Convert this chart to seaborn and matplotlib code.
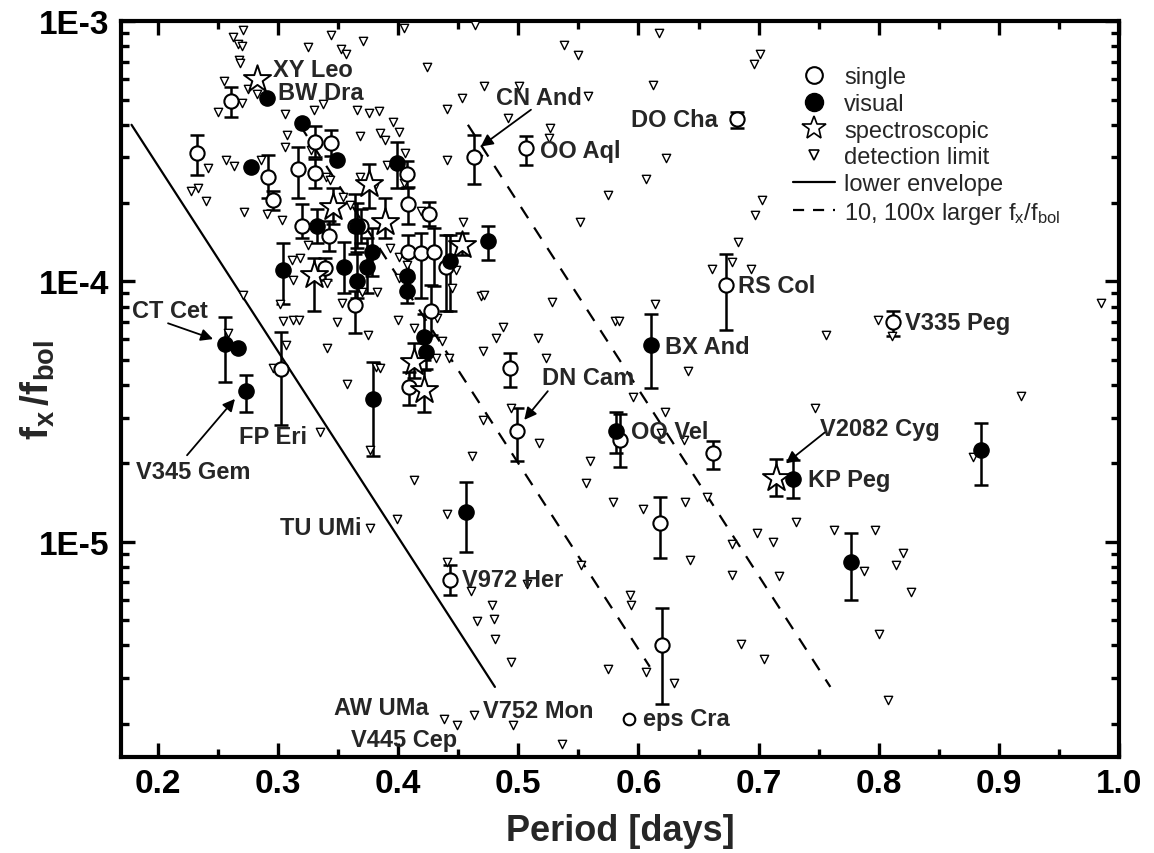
import numpy as np
import matplotlib
matplotlib.use('Agg')
import matplotlib.pyplot as plt
from matplotlib.lines import Line2D
from matplotlib.ticker import FuncFormatter, LogLocator, NullFormatter, MultipleLocator
import seaborn as sns

# single stars (open circles): period, fx/fbol, lower and upper error bar ends
single_p = [0.2607, 0.2326, 0.2914, 0.2960, 0.3165, 0.3309, 0.3309, 0.3440, 0.3203, 0.3426,
            0.3643, 0.3694, 0.3387, 0.3637, 0.4075, 0.4083, 0.4256, 0.4080, 0.4186, 0.4297,
            0.4395, 0.4270, 0.4089, 0.4632, 0.5063, 0.6818, 0.4930, 0.4986, 0.5843, 0.6623,
            0.6177, 0.4431, 0.6729, 0.8121, 0.6197, 0.3025]
single_fx = [4.92e-4, 3.11e-4, 2.52e-4, 2.06e-4, 2.70e-4, 3.42e-4, 2.61e-4, 3.40e-4, 1.64e-4, 1.49e-4,
             1.63e-4, 1.64e-4, 1.13e-4, 8.13e-5, 2.59e-4, 1.98e-4, 1.82e-4, 1.30e-4, 1.29e-4, 1.30e-4,
             1.14e-4, 7.71e-5, 3.95e-5, 3.00e-4, 3.26e-4, 4.21e-4, 4.65e-5, 2.66e-5, 2.46e-5, 2.19e-5,
             1.18e-5, 7.16e-6, 9.71e-5, 6.96e-5, 4.00e-6, 4.61e-5]
single_lo = [4.29e-4, 2.57e-4, 2.09e-4, 1.88e-4, 2.09e-4, 3.00e-4, 2.29e-4, 3.03e-4, 1.47e-4, 1.31e-4,
             1.27e-4, 1.40e-4, 1.01e-4, 6.33e-5, 2.29e-4, 1.66e-4, 1.63e-4, 1.03e-4, 8.63e-5, 9.57e-5,
             7.67e-5, 6.24e-5, 3.35e-5, 2.37e-4, 2.81e-4, 3.89e-4, 3.94e-5, 2.05e-5, 1.94e-5, 1.91e-5,
             8.68e-6, 6.26e-6, 6.52e-5, 6.19e-5, 2.39e-6, 2.81e-5]
single_hi = [5.59e-4, 3.64e-4, 3.07e-4, 2.23e-4, 3.30e-4, 3.97e-4, 2.95e-4, 3.83e-4, 1.98e-4, 1.71e-4,
             2.16e-4, 1.90e-4, 1.23e-4, 9.16e-5, 2.91e-4, 2.30e-4, 2.02e-4, 1.51e-4, 1.53e-4, 1.60e-4,
             1.51e-4, 9.71e-5, 4.51e-5, 3.65e-4, 3.61e-4, 4.48e-4, 5.30e-5, 3.26e-5, 3.11e-5, 2.43e-5,
             1.48e-5, 8.12e-6, 1.28e-4, 7.71e-5, 5.57e-6, 6.38e-5]

eps_p = [0.5921]
eps_fx = [2.09e-6]

# visual binaries (filled circles)
visual_p = [0.2906, 0.3198, 0.2774, 0.3490, 0.3992, 0.3044, 0.3323, 0.3546, 0.3657, 0.3657,
            0.3741, 0.3783, 0.4075, 0.4075, 0.4429, 0.4214, 0.4228, 0.4744, 0.3791, 0.2557,
            0.2668, 0.2733, 0.4562, 0.6102, 0.5815, 0.7283, 0.8851, 0.7770]
visual_fx = [5.07e-4, 4.06e-4, 2.75e-4, 2.94e-4, 2.85e-4, 1.11e-4, 1.63e-4, 1.14e-4, 1.64e-4, 1.00e-4,
             1.14e-4, 1.30e-4, 1.05e-4, 9.20e-5, 1.20e-4, 6.14e-5, 5.38e-5, 1.43e-4, 3.53e-5, 5.74e-5,
             5.57e-5, 3.78e-5, 1.30e-5, 5.70e-5, 2.66e-5, 1.75e-5, 2.25e-5, 8.37e-6]
visual_lo = [5.07e-4, 4.06e-4, 2.75e-4, 2.94e-4, 2.29e-4, 8.18e-5, 1.40e-4, 9.02e-5, 1.35e-4, 8.63e-5,
             9.02e-5, 1.05e-4, 9.00e-5, 8.30e-5, 7.67e-5, 5.00e-5, 4.60e-5, 1.21e-4, 2.14e-5, 4.12e-5,
             5.57e-5, 3.16e-5, 9.10e-6, 3.91e-5, 2.19e-5, 1.47e-5, 1.65e-5, 6.00e-6]
visual_hi = [5.07e-4, 4.06e-4, 2.75e-4, 2.94e-4, 3.45e-4, 1.40e-4, 1.90e-4, 1.42e-4, 2.00e-4, 1.30e-4,
             1.47e-4, 1.60e-4, 1.25e-4, 1.05e-4, 1.51e-4, 7.50e-5, 6.20e-5, 1.63e-4, 4.92e-5, 7.33e-5,
             5.57e-5, 4.38e-5, 1.70e-5, 7.50e-5, 3.16e-5, 2.06e-5, 2.85e-5, 1.08e-5]

# spectroscopic binaries (open stars)
spec_p = [0.2827, 0.3754, 0.3454, 0.3295, 0.3894, 0.4535, 0.4130, 0.4214, 0.7144]
spec_fx = [6.00e-4, 2.37e-4, 1.94e-4, 1.06e-4, 1.70e-4, 1.38e-4, 4.92e-5, 3.83e-5, 1.76e-5]
spec_lo = [6.00e-4, 1.91e-4, 1.66e-4, 7.71e-5, 1.47e-4, 1.26e-4, 4.25e-5, 3.16e-5, 1.50e-5]
spec_hi = [6.00e-4, 2.83e-4, 2.29e-4, 1.23e-4, 2.09e-4, 1.53e-4, 5.80e-5, 4.57e-5, 2.08e-5]

# detection limits (small down triangles)
det_p = [0.2705, 0.2622, 0.2668, 0.2697, 0.2677, 0.2683, 0.2549, 0.2752, 0.2822, 0.2702,
         0.2501, 0.3058, 0.3253, 0.3440, 0.3524, 0.3568, 0.3704, 0.3295, 0.3373, 0.3657,
         0.3754, 0.3838, 0.3958, 0.3685, 0.3852, 0.3894, 0.3073, 0.3058, 0.3273, 0.2566,
         0.2635, 0.2418, 0.2855, 0.2273, 0.2334, 0.2398, 0.2718, 0.2906, 0.3031, 0.3908,
         0.4047, 0.4637, 0.5383, 0.5495, 0.6172, 0.7013, 0.6962, 0.4236, 0.4715, 0.5008,
         0.4535, 0.4409, 0.5579, 0.6122, 0.4005, 0.4916, 0.5267, 0.5258, 0.4403, 0.4660,
         0.6225, 0.6066, 0.5746, 0.7027, 0.6966, 0.5517, 0.6832, 0.4543, 0.4053, 0.3401,
         0.3434, 0.3685, 0.3796, 0.4047, 0.3540, 0.3602, 0.3449, 0.4186, 0.3114, 0.3184,
         0.3123, 0.3245, 0.3407, 0.3017, 0.3532, 0.3825, 0.3699, 0.3930, 0.4005, 0.4005,
         0.4075, 0.3039, 0.3123, 0.3170, 0.3490, 0.3746, 0.4000, 0.4130, 0.4320, 0.4368,
         0.4688, 0.4715, 0.4813, 0.4702, 0.3407, 0.3067, 0.2961, 0.3574, 0.3819, 0.3846,
         0.4312, 0.5278, 0.6135, 0.5801, 0.5835, 0.4869, 0.5161, 0.5231, 0.6414, 0.7561,
         0.5955, 0.6219, 0.7472, 0.4702, 0.5175, 0.4618, 0.5598, 0.4130, 0.5559, 0.5788,
         0.6038, 0.6386, 0.6567, 0.7311, 0.6985, 0.7119, 0.7631, 0.6776, 0.6428, 0.6776,
         0.7166, 0.5523, 0.5927, 0.5935, 0.5072, 0.4604, 0.4409, 0.4938, 0.6381, 0.6191,
         0.6609, 0.6776, 0.6937, 0.7996, 0.8107, 0.9853, 0.9185, 0.8787, 0.7965, 0.7876,
         0.8146, 0.8205, 0.8267, 0.4777, 0.4794, 0.4654, 0.4807, 0.4938, 0.5746, 0.6060,
         0.6297, 0.6854, 0.7046, 0.8002, 0.8075, 0.4627, 0.4487, 0.4952, 0.5364, 0.4381,
         0.3763, 0.3992, 0.4404, 0.2710, 0.2585, 0.3345, 0.3769, 0.4423, 0.4451, 0.4479]
det_fx = [9.23e-4, 8.70e-4, 8.20e-4, 8.06e-4, 7.12e-4, 6.92e-4, 5.88e-4, 5.49e-4, 5.27e-4, 4.85e-4,
          4.49e-4, 4.40e-4, 7.94e-4, 8.86e-4, 7.82e-4, 7.50e-4, 8.38e-4, 4.57e-4, 4.82e-4, 4.57e-4,
          4.44e-4, 4.51e-4, 4.09e-4, 3.63e-4, 3.72e-4, 3.51e-4, 3.66e-4, 3.28e-4, 3.19e-4, 2.92e-4,
          2.77e-4, 2.73e-4, 2.94e-4, 2.22e-4, 2.28e-4, 2.04e-4, 1.85e-4, 1.81e-4, 1.73e-4, 2.81e-4,
          9.42e-4, 9.65e-4, 8.13e-4, 7.44e-4, 9.02e-4, 7.50e-4, 6.87e-4, 6.65e-4, 5.62e-4, 5.62e-4,
          5.07e-4, 4.61e-4, 5.15e-4, 5.70e-4, 3.74e-4, 4.25e-4, 3.89e-4, 3.56e-4, 2.92e-4, 2.96e-4,
          2.98e-4, 2.47e-4, 2.15e-4, 2.06e-4, 1.80e-4, 1.70e-4, 1.42e-4, 1.69e-4, 3.11e-4, 2.53e-4,
          2.46e-4, 2.51e-4, 2.28e-4, 2.40e-4, 2.12e-4, 1.97e-4, 1.91e-4, 1.87e-4, 1.21e-4, 1.23e-4,
          1.01e-4, 1.38e-4, 9.85e-5, 8.18e-5, 8.30e-5, 9.15e-5, 9.15e-5, 1.35e-4, 1.24e-4, 1.03e-4,
          1.16e-4, 7.06e-5, 7.12e-5, 7.12e-5, 6.97e-5, 6.23e-5, 7.12e-5, 6.61e-5, 7.22e-5, 5.91e-5,
          8.76e-5, 8.88e-5, 6.09e-5, 5.41e-5, 5.57e-5, 5.70e-5, 4.67e-5, 4.04e-5, 4.71e-5, 4.64e-5,
          5.07e-5, 8.32e-5, 8.18e-5, 7.02e-5, 7.06e-5, 6.71e-5, 6.09e-5, 5.10e-5, 4.53e-5, 6.23e-5,
          3.61e-5, 3.16e-5, 3.28e-5, 2.94e-5, 2.40e-5, 2.13e-5, 2.04e-5, 1.73e-5, 1.68e-5, 1.42e-5,
          1.34e-5, 1.42e-5, 1.48e-5, 1.19e-5, 1.08e-5, 1.00e-5, 1.11e-5, 9.85e-6, 8.50e-6, 7.48e-6,
          7.42e-6, 8.13e-6, 6.27e-6, 5.70e-6, 6.91e-6, 6.46e-6, 8.38e-6, 3.26e-5, 2.46e-5, 2.61e-5,
          1.12e-4, 1.19e-4, 1.12e-4, 7.12e-5, 6.20e-5, 8.25e-5, 3.63e-5, 2.12e-5, 1.11e-5, 7.70e-6,
          8.13e-6, 9.02e-6, 6.44e-6, 5.74e-6, 5.07e-6, 4.95e-6, 4.25e-6, 3.46e-6, 3.26e-6, 3.16e-6,
          2.87e-6, 4.04e-6, 3.56e-6, 4.44e-6, 2.46e-6, 2.17e-6, 1.97e-6, 1.97e-6, 1.67e-6, 2.08e-6,
          1.13e-5, 1.22e-5, 1.28e-5, 8.88e-5, 6.32e-5, 2.65e-5, 2.25e-5, 5.07e-5, 9.42e-5, 1.11e-4]

# lower envelope and the same line for 10x and 100x larger fx/fbol
env_p = [0.178, 0.4805]
env_fx = [4.0e-4, 2.77e-6]
env10_p = [0.318, 0.6094]
env10_fx = [4.0e-4, 3.31e-6]
env100_p = [0.458, 0.7597]
env100_fx = [4.0e-4, 2.77e-6]

# star names: (text, x, y)
names = [('XY Leo', 0.2958, 6.50e-4), ('BW Dra', 0.3000, 5.30e-4), ('CN And', 0.4813, 5.07e-4),
         ('OO Aql', 0.5183, 3.19e-4), ('DO Cha', 0.5935, 4.18e-4), ('RS Col', 0.6826, 9.65e-5),
         ('V335 Peg', 0.8219, 6.97e-5), ('BX And', 0.6219, 5.65e-5), ('DN Cam', 0.5195, 4.29e-5),
         ('OQ Vel', 0.5935, 2.65e-5), ('V2082 Cyg', 0.7514, 2.73e-5), ('KP Peg', 0.7411, 1.74e-5),
         ('CT Cet', 0.1786, 7.73e-5), ('V345 Gem', 0.1820, 1.87e-5), ('FP Eri', 0.2677, 2.53e-5),
         ('TU UMi', 0.3017, 1.13e-5), ('V972 Her', 0.4535, 7.16e-6), ('AW UMa', 0.3462, 2.30e-6),
         ('V445 Cep', 0.3607, 1.74e-6), ('V752 Mon', 0.4702, 2.25e-6), ('eps Cra', 0.6038, 2.09e-6)]
# arrows: (x_from, y_from, x_to, y_to)
arrows = [(0.5105, 4.57e-4, 0.4687, 3.30e-4), (0.5245, 3.79e-5, 0.5049, 2.94e-5),
          (0.7550, 2.63e-5, 0.7227, 2.00e-5), (0.2084, 6.91e-5, 0.2459, 6.01e-5),
          (0.2242, 2.15e-5, 0.2641, 3.54e-5)]

sns.set_style('ticks')
plt.rcParams['font.family'] = ['Liberation Sans', 'DejaVu Sans']
plt.rcParams['mathtext.fontset'] = 'custom'
plt.rcParams['mathtext.rm'] = 'Liberation Sans'
plt.rcParams['mathtext.bf'] = 'Liberation Sans:bold'
plt.rcParams['mathtext.it'] = 'Liberation Sans:italic'

fig, ax = plt.subplots(figsize=(11.54, 8.54), dpi=100)
fig.subplots_adjust(left=0.1046, right=0.9697, bottom=0.1124, top=0.974)
ax.set_yscale('log')


def draw_errors(p, fx, lo, hi):
    p, fx, lo, hi = map(np.asarray, (p, fx, lo, hi))
    m = hi > lo
    ax.errorbar(p[m], fx[m], yerr=[fx[m] - lo[m], hi[m] - fx[m]], fmt='none', ecolor='black',
                elinewidth=1.8, capsize=4.8, capthick=1.8, zorder=2)


draw_errors(single_p, single_fx, single_lo, single_hi)
draw_errors(visual_p, visual_fx, visual_lo, visual_hi)
draw_errors(spec_p, spec_fx, spec_lo, spec_hi)

sns.lineplot(x=env_p, y=env_fx, color='black', lw=1.6, ax=ax, zorder=1)
for xs, ys in [(env10_p, env10_fx), (env100_p, env100_fx)]:
    sns.lineplot(x=xs, y=ys, color='black', lw=1.6, ax=ax, zorder=1, dashes=False,
                 linestyle=(0, (6, 5)))

sns.scatterplot(x=det_p, y=det_fx, marker='v', s=36, color='white', edgecolor='black',
                linewidth=1.0, ax=ax, zorder=3, legend=False)
sns.scatterplot(x=single_p, y=single_fx, marker='o', s=105, color='white', edgecolor='black',
                linewidth=1.5, ax=ax, zorder=4, legend=False)
sns.scatterplot(x=eps_p, y=eps_fx, marker='o', s=70, color='white', edgecolor='black',
                linewidth=1.5, ax=ax, zorder=4, legend=False)
sns.scatterplot(x=visual_p, y=visual_fx, marker='o', s=120, color='black', edgecolor='black',
                linewidth=1.0, ax=ax, zorder=5, legend=False)
sns.scatterplot(x=spec_p, y=spec_fx, marker='*', s=420, color='white', edgecolor='black',
                linewidth=1.4, ax=ax, zorder=6, legend=False)

for txt, x, y in names:
    ax.text(x, y, txt, fontsize=17, fontweight='bold', ha='left', va='center', zorder=7)
for x0, y0, x1, y1 in arrows:
    ax.annotate('', xy=(x1, y1), xytext=(x0, y0),
                arrowprops=dict(arrowstyle='-|>', color='black', lw=1.3, mutation_scale=18,
                                shrinkA=0, shrinkB=0), zorder=7)

ax.set_xlim(0.169, 1.0)
ax.set_ylim(1.49e-6, 1e-3)
ax.xaxis.set_major_locator(MultipleLocator(0.1))
ax.xaxis.set_minor_locator(MultipleLocator(0.05))
ax.xaxis.set_major_formatter(FuncFormatter(lambda v, _: f'{v:.1f}'))
ax.yaxis.set_major_locator(LogLocator(base=10))
ax.yaxis.set_minor_locator(LogLocator(base=10, subs=np.arange(2, 10)))
ax.yaxis.set_minor_formatter(NullFormatter())
ax.yaxis.set_major_formatter(FuncFormatter(lambda v, _: f'1E{int(round(np.log10(v)))}'))

ax.tick_params(which='both', direction='in', top=True, right=True, width=2.4, colors='black')
ax.tick_params(which='major', length=10, pad=8, labelsize=24)
ax.tick_params(which='minor', length=6)
for lab in ax.get_xticklabels() + ax.get_yticklabels():
    lab.set_fontweight('bold')
for sp in ax.spines.values():
    sp.set_linewidth(3)
    sp.set_color('black')

ax.set_xlabel('Period [days]', fontsize=26, fontweight='bold', labelpad=10)
ax.set_ylabel(r'$\mathbf{f_x\,/f_{bol}}$', fontsize=28)
ax.yaxis.set_label_coords(-0.064, 0.5)

handles = [
    Line2D([], [], ls='none', marker='o', ms=12, mfc='white', mec='black', mew=1.5),
    Line2D([], [], ls='none', marker='o', ms=13, mfc='black', mec='black'),
    Line2D([], [], ls='none', marker='*', ms=18, mfc='white', mec='black', mew=1.2),
    Line2D([], [], ls='none', marker='v', ms=7, mfc='white', mec='black', mew=1.2),
    Line2D([], [], color='black', lw=1.6),
    Line2D([], [], color='black', lw=1.6, ls=(0, (5, 4))),
]
labels = ['single', 'visual', 'spectroscopic', 'detection limit', 'lower envelope',
          r'10, 100x larger f$_\mathregular{x}$/f$_\mathregular{bol}$']
ax.legend(handles, labels, loc='upper left', bbox_to_anchor=(0.662, 0.955), frameon=False,
          fontsize=17, handlelength=1.75, handletextpad=0.4, labelspacing=0.2, borderpad=0)

fig.savefig('out.png', dpi=100)
